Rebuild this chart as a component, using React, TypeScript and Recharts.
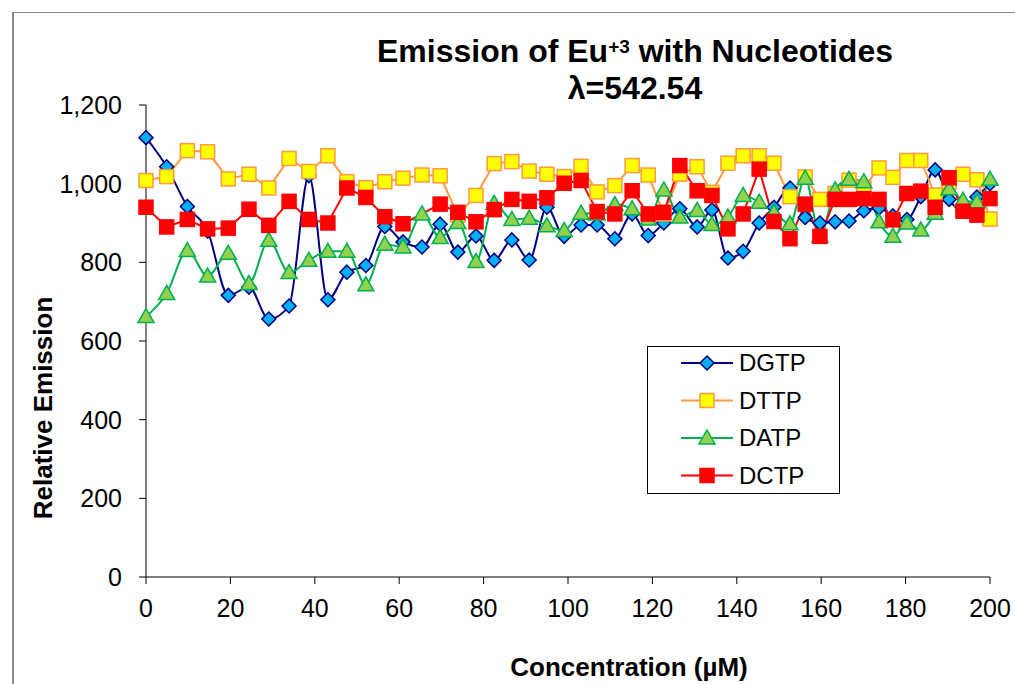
import { LineChart, Line, XAxis, YAxis } from "recharts";

// concentration (µM) of each titration step
const concentration = [
  0, 4.9, 9.8, 14.6, 19.5, 24.4, 29.1, 33.9, 38.6, 43.1, 47.6, 52.1, 56.6, 60.9,
  65.4, 69.7, 73.9, 78.2, 82.5, 86.7, 90.8, 95.0, 99.1, 103.1, 106.9, 111.1,
  115.2, 119.0, 122.7, 126.5, 130.6, 134.1, 137.9, 141.5, 145.3, 148.8, 152.6,
  156.2, 159.7, 163.3, 166.6, 170.1, 173.7, 177.0, 180.3, 183.6, 187.0, 190.3,
  193.6, 196.9, 200,
];

const dgtp = [
  1117, 1043, 942, 880, 716, 737, 656, 689, 1020, 705, 775, 792, 891, 852, 839,
  897, 826, 867, 805, 857, 806, 940, 866, 895, 895, 860, 923, 868, 900, 936, 890,
  933, 811, 828, 900, 940, 989, 914, 900, 903, 905, 931, 938, 918, 909, 967,
  1035, 960, 930, 966, 1000,
];

const dttp = [
  1008, 1018, 1084, 1081, 1012, 1024, 989, 1064, 1031, 1071, 1005, 990, 1005,
  1014, 1022, 1020, 920, 970, 1051, 1056, 1032, 1024, 1018, 1044, 979, 995, 1046,
  1022, 923, 1024, 1043, 978, 1052, 1071, 1071, 1052, 967, 1017, 960, 975, 1009,
  990, 1040, 1016, 1059, 1059, 971, 1005, 1024, 1010, 910,
];

const datp = [
  662, 721, 830, 765, 823, 746, 856, 774, 805, 828, 828, 743, 846, 839, 923, 863,
  901, 802, 950, 909, 912, 893, 881, 925, 923, 947, 936, 910, 984, 915, 932, 896,
  915, 970, 953, 927, 898, 1014, 867, 984, 1011, 1005, 903, 866, 900, 882, 925,
  987, 958, 954, 1011,
];

const dctp = [
  940, 890, 909, 885, 887, 935, 894, 955, 909, 900, 989, 965, 916, 898, null, 948,
  927, 903, 934, 960, 955, 964, 1001, 1008, 929, 923, 982, 923, 927, 1046, 982,
  970, 885, 923, 1037, 904, 860, 948, 866, 960, 960, 962, 960, 908, 975, 981,
  940, 1015, 930, 920, 962,
];

const xTicks = [0, 20, 40, 60, 80, 100, 120, 140, 160, 180, 200];
const yTicks = [0, 200, 400, 600, 800, 1000, 1200];

const data = concentration.map((x, i) => ({
  x,
  DGTP: dgtp[i],
  DTTP: dttp[i],
  DATP: datp[i],
  DCTP: dctp[i],
}));

const FONT = '"Liberation Sans", Arial, sans-serif';

type Marker = "diamond" | "square" | "triangle";

function MarkerShape({ kind, cx, cy, fill, stroke }: { kind: Marker; cx: number; cy: number; fill: string; stroke: string }) {
  if (kind === "diamond") {
    return (
      <polygon
        points={`${cx},${cy - 7} ${cx + 7},${cy} ${cx},${cy + 7} ${cx - 7},${cy}`}
        fill={fill}
        stroke={stroke}
        strokeWidth={1.5}
      />
    );
  }
  if (kind === "triangle") {
    return (
      <polygon
        points={`${cx},${cy - 8} ${cx + 8},${cy + 6} ${cx - 8},${cy + 6}`}
        fill={fill}
        stroke={stroke}
        strokeWidth={1.5}
      />
    );
  }
  return <rect x={cx - 7} y={cy - 7} width={14} height={14} fill={fill} stroke={stroke} strokeWidth={1.5} />;
}

const SERIES = [
  { key: "DGTP", line: "#000080", fill: "#00b0f0", stroke: "#000080", marker: "diamond" as Marker, curve: "monotone" },
  { key: "DTTP", line: "#ff9a40", fill: "#ffff00", stroke: "#ff9a40", marker: "square" as Marker, curve: "linear" },
  { key: "DATP", line: "#00b050", fill: "#92d050", stroke: "#00b050", marker: "triangle" as Marker, curve: "monotone" },
  { key: "DCTP", line: "#ff0000", fill: "#ff0000", stroke: "#ff0000", marker: "square" as Marker, curve: "linear" },
];

function ChartLegend() {
  return (
    <div
      style={{
        position: "absolute",
        left: 647,
        top: 346,
        width: 193,
        height: 148,
        boxSizing: "border-box",
        border: "1px solid #000",
        background: "#fff",
      }}
    >
      <svg width={191} height={146}>
        {SERIES.map((s, i) => {
          const y = 16 + i * 37.5;
          return (
            <g key={s.key}>
              <line x1={33} x2={85} y1={y} y2={y} stroke={s.line} strokeWidth={2} />
              <MarkerShape kind={s.marker} cx={59} cy={y} fill={s.fill} stroke={s.stroke} />
              <text x={91} y={y} dy="0.35em" fontSize={24} fontFamily={FONT} fill="#000">
                {s.key}
              </text>
            </g>
          );
        })}
      </svg>
    </div>
  );
}

export default function App() {
  return (
    <div
      style={{
        position: "absolute",
        left: 0,
        top: 0,
        width: 1015,
        height: 684,
        overflow: "hidden",
        background: "#fff",
        fontFamily: FONT,
      }}
    >
      {/* chart area frame, cut off at the right and bottom like the original */}
      <div
        style={{
          position: "absolute",
          left: 12,
          top: 12,
          width: 1100,
          height: 800,
          borderLeft: "2px solid #8a8a8a",
          borderTop: "1px solid #8a8a8a",
        }}
      />
      <div
        style={{
          position: "absolute",
          left: 335,
          top: 28,
          width: 600,
          textAlign: "center",
          fontWeight: "bold",
          fontSize: 32,
          lineHeight: "37px",
        }}
      >
        <div>
          Emission of Eu<sup style={{ fontSize: 19, verticalAlign: "9px" }}>+3</sup> with Nucleotides
        </div>
        <div>λ=542.54</div>
      </div>
      <div
        style={{
          position: "absolute",
          left: 43,
          top: 408,
          transform: "translate(-50%, -50%) rotate(-90deg)",
          whiteSpace: "nowrap",
          fontWeight: "bold",
          fontSize: 26,
        }}
      >
        Relative Emission
      </div>
      <div
        style={{
          position: "absolute",
          left: 329,
          top: 652,
          width: 600,
          textAlign: "center",
          fontWeight: "bold",
          fontSize: 26,
          lineHeight: "30px",
        }}
      >
        Concentration (µM)
      </div>
      <div style={{ position: "absolute", left: 0, top: 0 }}>
        <LineChart width={1015} height={684} data={data} margin={{ top: 105, right: 25, bottom: 47, left: 46 }}>
          <XAxis
            type="number"
            dataKey="x"
            domain={[0, 200]}
            ticks={xTicks}
            interval={0}
            height={60}
            tickSize={7}
            tickMargin={15}
            axisLine={{ stroke: "#000" }}
            tickLine={{ stroke: "#000" }}
            tick={{ fill: "#000", fontSize: 25, fontFamily: FONT }}
          />
          <YAxis
            type="number"
            domain={[0, 1200]}
            ticks={yTicks}
            interval={0}
            width={100}
            tickSize={7}
            tickMargin={17}
            axisLine={{ stroke: "#000" }}
            tickLine={{ stroke: "#000" }}
            tick={{ fill: "#000", fontSize: 25, fontFamily: FONT }}
            tickFormatter={(v: number) => v.toLocaleString("en-US")}
          />
          {SERIES.map((s) => (
            <Line
              key={s.key}
              dataKey={s.key}
              type={s.curve as any}
              stroke={s.line}
              strokeWidth={2}
              connectNulls
              isAnimationActive={false}
              activeDot={false}
              dot={(p: any) =>
                p.cx == null || p.cy == null || p.value == null ? (
                  <g key={`${s.key}-${p.index}`} />
                ) : (
                  <MarkerShape
                    key={`${s.key}-${p.index}`}
                    kind={s.marker}
                    cx={p.cx}
                    cy={p.cy}
                    fill={s.fill}
                    stroke={s.stroke}
                  />
                )
              }
            />
          ))}
        </LineChart>
      </div>
      <ChartLegend />
    </div>
  );
}
